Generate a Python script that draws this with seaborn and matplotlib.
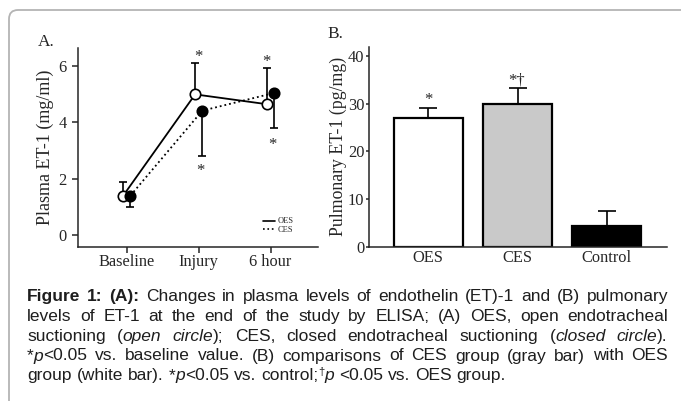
import numpy as np
import matplotlib
matplotlib.use("Agg")
import matplotlib.pyplot as plt
import seaborn as sns
from matplotlib.lines import Line2D
from matplotlib.patches import FancyBboxPatch
from matplotlib.transforms import IdentityTransform

# panel A: plasma ET-1 (mean, one-sided SD)
time_labels = ["Baseline", "Injury", "6 hour"]
oes_plasma = [1.4, 5.0, 4.65]
oes_plasma_err = [0.5, 1.1, 1.3]
ces_plasma = [1.4, 4.42, 5.05]
ces_plasma_err = [0.42, 1.6, 1.25]

# panel B: pulmonary ET-1
groups = ["OES", "CES", "Control"]
pulmonary = [26.9, 29.9, 4.3]
pulmonary_err = [2.1, 3.3, 3.1]
bar_colors = ["white", "#c9c9c9", "black"]

W, H = 681, 401
sns.set_style("ticks")
serif = ["Liberation Serif", "DejaVu Serif"]
sans = ["Liberation Sans", "DejaVu Sans"]
plt.rcParams["font.family"] = serif
plt.rcParams["axes.linewidth"] = 1.1
plt.rcParams["xtick.major.width"] = 1.1
plt.rcParams["ytick.major.width"] = 1.1

fig = plt.figure(figsize=(W / 100, H / 100), dpi=100)

# grey rounded frame
frame = FancyBboxPatch((9, -40), 900, 431, boxstyle="round,pad=0,rounding_size=9",
                       transform=IdentityTransform(), fill=False, ec="#b4b4b4", lw=1.3)
fig.patches.append(frame)

# ---- panel A
axA = fig.add_axes([78 / W, 1 - 247 / H, 240 / W, 199 / H])
pos = np.arange(len(time_labels))
zeros = np.zeros(len(pos))

axA.errorbar(pos - 0.05, oes_plasma, yerr=[zeros, oes_plasma_err], fmt="none",
             ecolor="k", elinewidth=1.2, capsize=3, capthick=1.2, zorder=2)
axA.errorbar(pos + 0.05, ces_plasma, yerr=[ces_plasma_err, zeros], fmt="none",
             ecolor="k", elinewidth=1.2, capsize=3, capthick=1.2, zorder=2)
sns.lineplot(x=pos - 0.05, y=oes_plasma, ax=axA, color="k", lw=1.3, marker="o",
             ms=7.5, mfc="white", mec="k", mew=1.2, zorder=3)
sns.lineplot(x=pos + 0.05, y=ces_plasma, ax=axA, color="k", lw=1.3, ls=":",
             marker="o", ms=7.5, mfc="k", mec="k", mew=1.2, zorder=4)

axA.set_xlim(-0.68, 2.66)
axA.set_ylim(-0.43, 6.65)
axA.set_xticks(pos)
axA.set_xticklabels(time_labels)
axA.set_yticks([0, 2, 4, 6])
axA.tick_params(labelsize=11.8, length=4)
axA.tick_params(axis="x", pad=1)
axA.tick_params(axis="y", pad=4)
axA.set_ylabel("Plasma ET-1 (mg/ml)", fontsize=13, labelpad=3)
sns.despine(ax=axA)

for x, y in [(1.0, 6.19), (1.02, 2.14), (1.94, 6.01), (2.03, 3.04)]:
    axA.text(x, y, "*", ha="center", va="baseline", fontsize=12)

handles = [Line2D([], [], color="k", lw=1.2), Line2D([], [], color="k", lw=1.2, ls=":")]
axA.legend(handles, ["OES", "CES"], loc="lower right", bbox_to_anchor=(0.915, 0.045),
           frameon=False, fontsize=6, handlelength=1.4, handletextpad=0.3,
           labelspacing=0.05, borderpad=0)
fig.text(38 / W, 1 - 46 / H, "A.", fontsize=12.5, va="baseline")

# ---- panel B
axB = fig.add_axes([369.3 / W, 1 - 246.7 / H, 297.4 / W, 200 / H])
sns.barplot(x=groups, y=pulmonary, hue=groups, palette=bar_colors, edgecolor="black",
            linewidth=1.6, width=0.77, legend=False, ax=axB, zorder=2)
axB.errorbar(np.arange(len(groups)), pulmonary, yerr=[np.zeros(len(groups)), pulmonary_err],
             fmt="none", ecolor="k", elinewidth=1.2, capsize=6.5, capthick=1.2, zorder=1)
axB.set_xlim(-0.66, 2.67)
axB.set_ylim(0, 41.9)
axB.set_yticks([0, 10, 20, 30, 40])
axB.tick_params(axis="y", labelsize=11.8, length=2.5, pad=1)
axB.tick_params(axis="x", labelsize=11.8, length=0, pad=2.5)
axB.set_xlabel("")
axB.set_ylabel("Pulmonary ET-1 (pg/mg)", fontsize=12.8, labelpad=1)
sns.despine(ax=axB)
axB.text(0, 29.8, "*", ha="center", va="baseline", fontsize=12)
axB.text(0.99, 34.0, "*\u2020", ha="center", va="baseline", fontsize=12)
fig.text(327 / W, 1 - 38 / H, "B.", fontsize=12.5, va="baseline")

# ---- caption, justified
cap_size = 12.5
cap_color = "#1e1e1e"
caption = [
    [("Figure 1: (A):", "bold"), (" Changes in plasma levels of endothelin (ET)-1 and (B) pulmonary", "normal")],
    [("levels of ET-1 at the end of the study by ELISA; (A) OES, open endotracheal", "normal")],
    [("suctioning (", "normal"), ("open circle", "italic"),
     ("); CES, closed endotracheal suctioning (", "normal"), ("closed circle", "italic"), (").", "normal")],
    [("*", "normal"), ("p", "italic"),
     ("<0.05 vs. baseline value. (B) comparisons of CES group (gray bar) with OES", "normal")],
    [("group (white bar). *", "normal"), ("p", "italic"), ("<0.05 vs. control;", "normal"),
     ("\u2020", "sup"), ("p", "italic"), (" <0.05 vs. OES group.", "normal")],
]
baselines = [301, 321, 341, 360.5, 380]
left, right = 27, 668

renderer = fig.canvas.get_renderer()


def props(style):
    d = dict(family=sans, size=cap_size, color=cap_color)
    if style == "bold":
        d["weight"] = "bold"
    if style == "italic":
        d["style"] = "italic"
    if style == "sup":
        d["size"] = cap_size * 0.65
    return d


def width(s, style):
    t = fig.text(0, 0, s, **props(style))
    w = t.get_window_extent(renderer).width
    t.remove()
    return w


space_w = width("a a", "normal") - width("aa", "normal")

for i, line in enumerate(caption):
    tokens = [[]]
    for text, style in line:
        parts = text.split(" ")
        for j, part in enumerate(parts):
            if j > 0:
                tokens.append([])
            if part:
                tokens[-1].append((part, style))
    tokens = [t for t in tokens if t]
    widths = [[width(p, s) for p, s in tok] for tok in tokens]
    total = sum(sum(w) for w in widths)
    gaps = len(tokens) - 1
    if i < len(caption) - 1:
        gap = (right - left - total) / gaps
    else:
        gap = space_w
    x = left
    for tok, ws in zip(tokens, widths):
        for (p, s), w in zip(tok, ws):
            yb = baselines[i] - (5 if s == "sup" else 0)
            fig.text(x / W, 1 - yb / H, p, va="baseline", ha="left", **props(s))
            x += w
        x += gap

fig.savefig("out.png", dpi=100)
